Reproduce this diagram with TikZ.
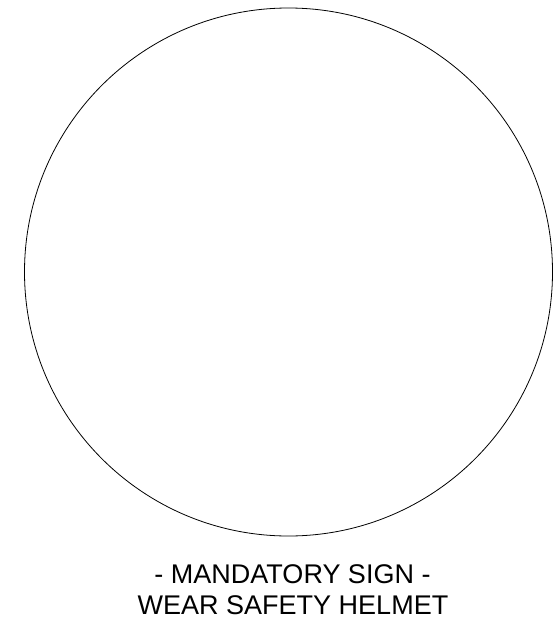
\documentclass[tikz,border=0pt]{standalone}
\usepackage{fontspec}
\setmainfont{Liberation Sans}

\begin{document}
\begin{tikzpicture}[x=1pt, y=-1pt]
\tikzset{
  rim/.style={draw, line width=0.8pt},
  captext/.style={font=\fontsize{27}{31.5}\selectfont, anchor=base, inner sep=0pt}}
\useasboundingbox (0,0) rectangle (553,621);

% ---------------- sign outline ----------------
\node[rim, circle, minimum size=528pt, inner sep=0pt] (sign) at (288.5,272) {};

% ---------------- caption ----------------
\node[captext] (title) at (292.5,583) {- MANDATORY SIGN -};
\node[captext] (action) at (293,614.5) {WEAR SAFETY HELMET};
\end{tikzpicture}
\end{document}
